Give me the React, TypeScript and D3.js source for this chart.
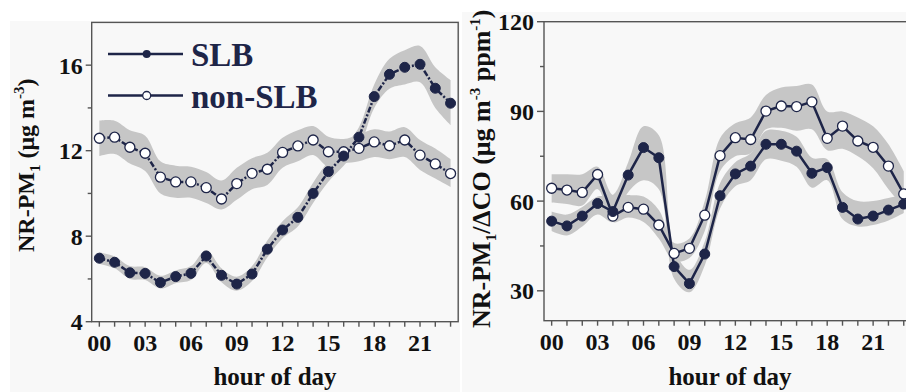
import React from "react";
import * as d3 from "d3";

// hour of day
const hours = [0, 1, 2, 3, 4, 5, 6, 7, 8, 9, 10, 11, 12, 13, 14, 15, 16, 17, 18, 19, 20, 21, 22, 23];
const hourTicks = [0, 3, 6, 9, 12, 15, 18, 21];
const hourLabels = ["00", "03", "06", "09", "12", "15", "18", "21"];

// left panel: NR-PM1 (ug m-3)
const pmSLB = [6.97, 6.78, 6.29, 6.26, 5.83, 6.11, 6.26, 7.07, 6.17, 5.76, 6.23, 7.39, 8.29, 8.88, 10.0, 11.02, 11.75, 12.63, 14.53, 15.57, 15.9, 16.04, 14.92, 14.22];
const pmSLBHi = [7.25, 7.05, 6.6, 6.55, 6.15, 6.4, 6.6, 7.35, 6.5, 6.1, 6.6, 7.8, 8.7, 9.35, 10.5, 11.5, 12.2, 13.1, 15.1, 16.3, 16.7, 16.9, 15.9, 15.3];
const pmSLBLo = [6.7, 6.5, 6.0, 5.95, 5.55, 5.8, 5.95, 6.75, 5.85, 5.45, 5.9, 7.0, 7.9, 8.45, 9.55, 10.55, 11.3, 12.1, 14.0, 14.9, 15.1, 15.2, 14.0, 13.2];
const pmNon = [12.58, 12.63, 12.16, 11.88, 10.76, 10.54, 10.54, 10.27, 9.74, 10.46, 10.94, 11.13, 11.92, 12.22, 12.5, 11.95, 11.95, 12.11, 12.41, 12.23, 12.5, 11.79, 11.38, 10.93];
const pmNonHi = [13.4, 13.4, 12.95, 12.7, 11.5, 11.3, 11.25, 11.0, 10.6, 11.2, 11.65, 11.9, 12.6, 12.95, 13.15, 12.65, 12.55, 12.75, 13.0, 12.9, 13.1, 12.5, 12.1, 11.6];
const pmNonLo = [11.75, 11.85, 11.4, 11.05, 10.0, 9.8, 9.8, 9.55, 9.25, 9.7, 10.2, 10.4, 11.2, 11.5, 11.8, 11.25, 11.4, 11.5, 11.7, 11.6, 11.7, 11.1, 10.7, 10.3];

// right panel: NR-PM1/dCO (ug m-3 ppm-1)
const coSLB = [53.3, 51.7, 55.0, 59.2, 56.5, 68.7, 77.9, 74.5, 38.1, 32.4, 42.3, 61.8, 69.1, 71.7, 79.0, 79.0, 76.7, 69.3, 71.2, 57.9, 54.0, 55.0, 57.0, 59.0];
const coSLBHi = [56.5, 55.5, 58, 61.5, 62, 73, 85, 82, 44, 37, 46.5, 66, 73, 76, 83.5, 83.5, 81.5, 74.5, 74, 63, 60, 60, 61, 62];
const coSLBLo = [50, 48.5, 51.5, 55.5, 53, 63, 67, 64, 34, 29.5, 38.5, 57.5, 65, 67, 74, 73.5, 71.5, 64.5, 67, 54, 51.5, 52, 53.5, 56];
const coNon = [64.3, 63.7, 62.9, 68.9, 55.0, 57.9, 57.3, 52.0, 42.5, 44.2, 55.3, 75.2, 81.2, 80.6, 90.1, 91.8, 91.6, 93.2, 81.0, 85.1, 80.1, 78.0, 71.7, 62.4];
const coNonHi = [69, 69, 69, 71.5, 62, 62, 61.5, 57, 46, 47.5, 60, 81, 86, 88, 95.5, 98, 98.5, 99, 90, 90, 88, 85, 79, 70];
const coNonLo = [59.5, 59, 58.5, 64, 53, 54.5, 53, 47.5, 40, 41, 50, 70, 75, 76, 84, 84.5, 83.5, 84, 77, 77.5, 75, 71, 64, 58];

const pmTicks = [4, 8, 12, 16];
const pmMinor = [6, 10, 14];
const coTicks = [30, 60, 90, 120];
const coMinor = [45, 75, 105];

const NAVY = "#1e2548";
const BAND = "#c6c6c6";
const AXIS = "#555";
const FONT = "'Liberation Serif', 'Times New Roman', serif";

type PanelProps = {
  xRange: [number, number];
  yDomain: [number, number];
  yRange: [number, number];
  ticks: number[];
  minor: number[];
  slb: number[]; slbHi: number[]; slbLo: number[];
  non: number[]; nonHi: number[]; nonLo: number[];
  dash?: string;
  majorLen: number;
};

function Panel(p: PanelProps) {
  const x = d3.scaleLinear().domain([-0.5, 23.5]).range(p.xRange);
  const y = d3.scaleLinear().domain(p.yDomain).range(p.yRange);
  const [x0, x1] = p.xRange;
  const [yb, yt] = p.yRange;

  const band = (hi: number[], lo: number[]) =>
    d3.area<number>()
      .x(h => x(h))
      .y0((_, i) => y(lo[i]))
      .y1((_, i) => y(hi[i]))
      .curve(d3.curveCatmullRom.alpha(0.5))(hours) || "";
  const line = (v: number[]) =>
    d3.line<number>().x(h => x(h)).y((_, i) => y(v[i]))(hours) || "";

  return (
    <g>
      <path d={band(p.nonHi, p.nonLo)} fill={BAND} />
      <path d={band(p.slbHi, p.slbLo)} fill={BAND} />
      <path d={line(p.non)} fill="none" stroke={NAVY} strokeWidth={2.5} strokeDasharray={p.dash} />
      <path d={line(p.slb)} fill="none" stroke={NAVY} strokeWidth={2.5} strokeDasharray={p.dash} />
      {hours.map((h, i) => (
        <circle key={"n" + h} cx={x(h)} cy={y(p.non[i])} r={5} fill="#fff" stroke={NAVY} strokeWidth={1.3} />
      ))}
      {hours.map((h, i) => (
        <circle key={"s" + h} cx={x(h)} cy={y(p.slb[i])} r={5} fill={NAVY} stroke={NAVY} strokeWidth={1} />
      ))}

      {/* frame */}
      <rect x={x0} y={yt} width={x1 - x0} height={yb - yt} fill="none" stroke={AXIS} strokeWidth={1.4} />

      {/* x ticks */}
      {hours.map(h => (
        <line key={"xt" + h} x1={x(h)} x2={x(h)} y1={yb} y2={yb + 5} stroke={AXIS} strokeWidth={1.4} />
      ))}
      {hourTicks.map((h, i) => (
        <text key={"xl" + h} x={x(h)} y={yb + 29} textAnchor="middle" fontSize={24} fontWeight="bold" fill="#111" fontFamily={FONT}>
          {hourLabels[i]}
        </text>
      ))}

      {/* y ticks */}
      {p.ticks.map(t => (
        <g key={"yt" + t}>
          <line x1={x0 - p.majorLen} x2={x0} y1={y(t)} y2={y(t)} stroke={AXIS} strokeWidth={1.4} />
          <text x={x0 - p.majorLen - 3} y={y(t)} dy="0.35em" textAnchor="end" fontSize={24} fontWeight="bold" fill="#111" fontFamily={FONT}>
            {t}
          </text>
        </g>
      ))}
      {p.minor.map(t => (
        <line key={"ym" + t} x1={x0 - 4} x2={x0} y1={y(t)} y2={y(t)} stroke={AXIS} strokeWidth={1.4} />
      ))}
    </g>
  );
}

export default function App() {
  return (
    <svg width={906} height={392} style={{ position: "absolute", left: 0, top: 0, background: "#fff" }} fontFamily={FONT}>
      <rect x={10} y={21} width={450} height={371} fill="#f8f8f8" />
      <rect x={462} y={12} width={444} height={380} fill="#f8f8f8" />

      <Panel
        xRange={[91.7, 458.2]} yDomain={[4, 18]} yRange={[321.7, 22.4]}
        ticks={pmTicks} minor={pmMinor}
        slb={pmSLB} slbHi={pmSLBHi} slbLo={pmSLBLo}
        non={pmNon} nonHi={pmNonHi} nonLo={pmNonLo}
        dash="6,2,2,2" majorLen={6}
      />
      <Panel
        xRange={[544, 911.4]} yDomain={[20, 120]} yRange={[320.7, 21.7]}
        ticks={coTicks} minor={coMinor}
        slb={coSLB} slbHi={coSLBHi} slbLo={coSLBLo}
        non={coNon} nonHi={coNonHi} nonLo={coNonLo}
        majorLen={7}
      />

      {/* legend */}
      <g fill={NAVY} fontWeight="bold" fontSize={33}>
        <line x1={108} x2={183} y1={54} y2={54} stroke={NAVY} strokeWidth={2.5} />
        <circle cx={146.7} cy={54} r={4} fill={NAVY} />
        <text x={191} y={66}>SLB</text>
        <line x1={108} x2={183} y1={95.5} y2={95.5} stroke={NAVY} strokeWidth={2.5} />
        <circle cx={146.7} cy={95.5} r={4} fill="#fff" stroke={NAVY} strokeWidth={1.3} />
        <text x={191} y={108}>non-SLB</text>
      </g>

      {/* axis titles */}
      <text transform="translate(34,252) rotate(-90)" fontSize={24} fontWeight="bold" fill="#111">
        NR-PM<tspan fontSize={15} dy={6}>1</tspan>
        <tspan dy={-6}> (μg m</tspan>
        <tspan fontSize={15} dy={-10}>-3</tspan>
        <tspan dy={10}>)</tspan>
      </text>
      <text transform="translate(490,328) rotate(-90)" fontSize={26} fontWeight="bold" fill="#111">
        NR-PM<tspan fontSize={15} dy={6}>1</tspan>
        <tspan dy={-6}>/ΔCO (μg m</tspan>
        <tspan fontSize={15} dy={-10}>-3</tspan>
        <tspan dy={10}> ppm</tspan>
        <tspan fontSize={15} dy={-10}>-1</tspan>
        <tspan dy={10}>)</tspan>
      </text>
      <text x={275} y={385} textAnchor="middle" fontSize={25} fontWeight="bold" fill="#111">hour of day</text>
      <text x={730} y={385} textAnchor="middle" fontSize={25} fontWeight="bold" fill="#111">hour of day</text>
    </svg>
  );
}
